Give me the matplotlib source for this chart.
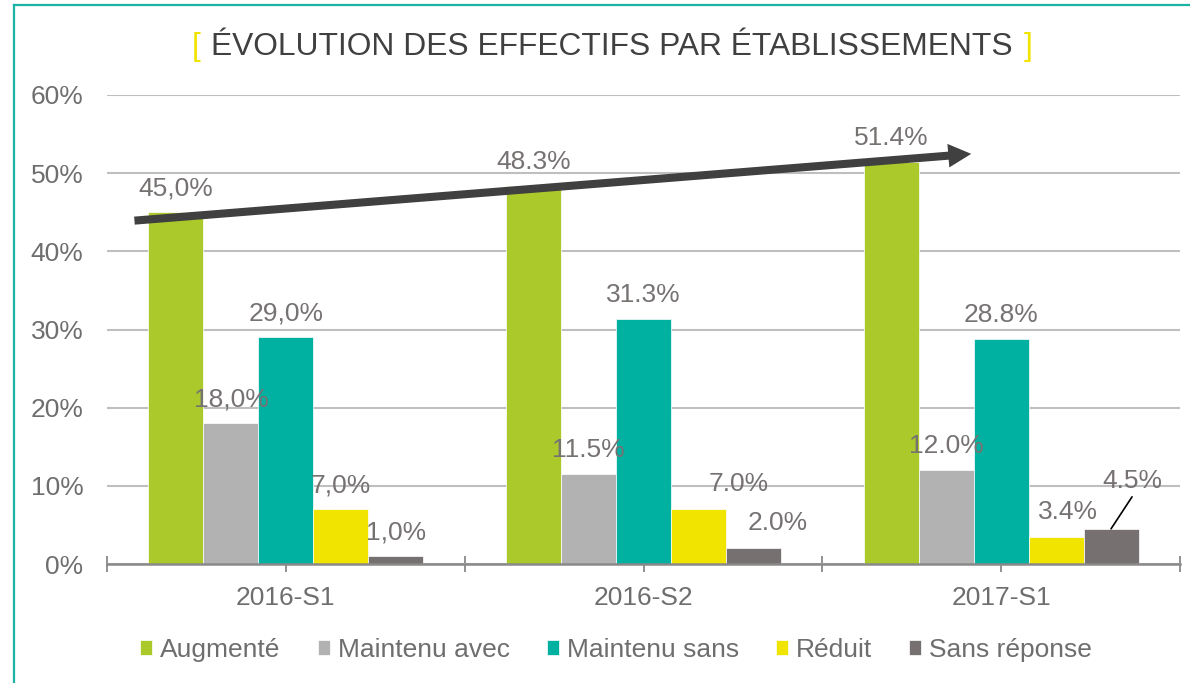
import numpy as np
import matplotlib
matplotlib.use('Agg')
import matplotlib.pyplot as plt
from matplotlib.patches import FancyArrowPatch
from matplotlib.lines import Line2D

# data
periods = ['2016-S1', '2016-S2', '2017-S1']
series_names = ['Augmenté', 'Maintenu avec', 'Maintenu sans', 'Réduit', 'Sans réponse']
augmente = [45.0, 48.3, 51.4]
maintenu_avec = [18.0, 11.5, 12.0]
maintenu_sans = [29.0, 31.3, 28.8]
reduit = [7.0, 7.0, 3.4]
sans_reponse = [1.0, 2.0, 4.5]
decimal_sep = [',', '.', '.']  # first period is written with a comma

values = [augmente, maintenu_avec, maintenu_sans, reduit, sans_reponse]
colors = ['#ABC92B', '#B2B2B2', '#00B1A1', '#F0E400', '#767170']

plt.rcParams['font.family'] = ['Liberation Sans', 'DejaVu Sans']
text_gray = '#6E6E6E'
label_gray = '#767272'

fig = plt.figure(figsize=(11.9, 6.83), dpi=100)
ax = fig.add_axes([107 / 1190, 1 - 564 / 683, 1073 / 1190, 469 / 683])

x = np.arange(len(periods))
w = 0.1536
for i, (name, vals, c) in enumerate(zip(series_names, values, colors)):
    ax.bar(x + (i - 2) * w, vals, width=w, color=c, edgecolor='white',
           linewidth=0.5, label=name, zorder=2)

# label nudges in pixels (dx, dy to baseline) where Excel moved them
nudges = {(3, 1): (40, 18), (4, 1): (24, 18), (3, 2): (12, 18), (4, 2): (21, 41)}
for i, vals in enumerate(values):
    for j, v in enumerate(vals):
        dx, dy = nudges.get((i, j), (0, 17))
        txt = f'{v:.1f}%'.replace('.', decimal_sep[j])
        ax.annotate(txt, xy=(j + (i - 2) * w, v), xytext=(dx, dy),
                    textcoords='offset pixels', ha='center', va='baseline',
                    fontsize=19, color=label_gray, zorder=5)

# leader line for the 4.5% label
ax.annotate('', xy=(2 + 2 * w, sans_reponse[2]), xytext=(21, 32),
            textcoords='offset pixels',
            arrowprops=dict(arrowstyle='-', color='black', lw=1.2,
                            shrinkA=0, shrinkB=0), zorder=5)

# trend arrow
arrow = FancyArrowPatch((-0.431, 43.9), (1.924, 52.5),
                        arrowstyle='simple,head_length=16.5,head_width=17,tail_width=5.8',
                        mutation_scale=1, color='#404040', lw=0, zorder=4)
ax.add_patch(arrow)

ax.set_xlim(-0.5, 2.5)
ax.set_ylim(0, 60)
ax.set_yticks(range(0, 61, 10))
ax.set_yticklabels([f'{t}%' for t in range(0, 61, 10)])
ax.set_xticks(x)
ax.set_xticklabels(periods)
ax.set_xticks([-0.5, 0.5, 1.5, 2.5], minor=True)
ax.grid(axis='y', color='#BFBFBF', lw=1.5, zorder=0)
ax.set_axisbelow(True)
for s in ['top', 'right', 'left']:
    ax.spines[s].set_visible(False)
ax.spines['bottom'].set_color('#898989')
ax.spines['bottom'].set_linewidth(1.8)
ax.tick_params(axis='y', length=0, pad=17, labelsize=19, labelcolor=text_gray)
ax.tick_params(axis='x', which='both', direction='inout', length=12, width=1.3,
               color='#898989', pad=10, labelsize=19, labelcolor=text_gray)

# title with yellow brackets
title = fig.text(612 / 1190, 1 - 55 / 683, 'ÉVOLUTION DES EFFECTIFS PAR ÉTABLISSEMENTS',
                 ha='center', va='baseline', fontsize=22.9, color='#404040')
fig.canvas.draw()
bb = title.get_window_extent()
fig.text((bb.x0 - 11) / 1190, 1 - 55 / 683, '[', ha='right', va='baseline',
         fontsize=22.9, color='#F0E400', fontweight='light')
fig.text((bb.x1 + 11) / 1190, 1 - 55 / 683, ']', ha='left', va='baseline',
         fontsize=22.9, color='#F0E400', fontweight='light')

leg = fig.legend(loc='center', bbox_to_anchor=(616 / 1190, 1 - 650 / 683), ncol=5,
                 frameon=False, fontsize=19, handlelength=0.46, handleheight=0.46,
                 handletextpad=0.3, columnspacing=1.4, borderaxespad=0)
for t in leg.get_texts():
    t.set_color(text_gray)

# teal frame edges
fig.add_artist(Line2D([13.5 / 1190, 13.5 / 1190], [0, 1 - 5.3 / 683],
                      color='#1AB3A4', lw=1.6))
fig.add_artist(Line2D([13.5 / 1190, 1], [1 - 5.3 / 683, 1 - 5.3 / 683],
                      color='#1AB3A4', lw=1.6))

fig.savefig('out.png', dpi=100)
